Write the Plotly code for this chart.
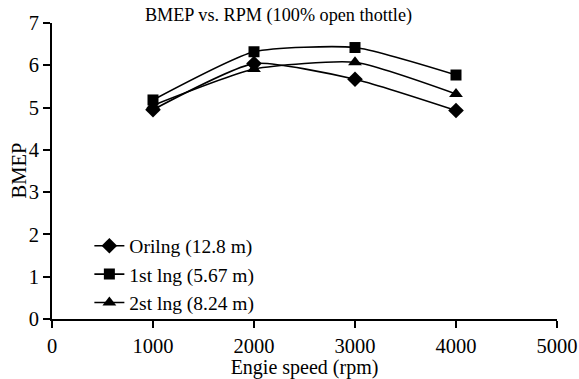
import plotly.graph_objects as go

rpm = [1000, 2000, 3000, 4000]
orig = [4.95, 6.04, 5.67, 4.93]
first = [5.18, 6.32, 6.42, 5.77]
second = [5.05, 5.91, 6.07, 5.32]

names = ["Orilng (12.8 m)", "1st lng (5.67 m)", "2st lng (8.24 m)"]
series = [orig, first, second]
symbols = ["diamond", "square", "triangle-up"]
sizes = [12, 11, 12]

fig = go.Figure()
for n, s, sym, sz in zip(names, series, symbols, sizes):
    fig.add_trace(go.Scatter(
        x=rpm, y=s, name=n, mode="lines+markers",
        line=dict(color="black", width=1.6, shape="spline", smoothing=0.55),
        marker=dict(symbol=sym, size=sz, color="black"),
    ))

serif = "Liberation Serif, Times New Roman, serif"
font = dict(family=serif, size=20, color="black")
fig.update_layout(
    width=579, height=379,
    margin=dict(l=52, r=22, t=23, b=60),
    paper_bgcolor="white", plot_bgcolor="white",
    font=font,
    title=dict(text="BMEP vs. RPM (100% open thottle)", x=0.481, xanchor="center",
               y=0.961, yanchor="middle", font=dict(family=serif, size=18.2)),
    legend=dict(x=0.074, y=-0.012, xanchor="left", yanchor="bottom",
                bgcolor="rgba(0,0,0,0)", font=dict(family=serif, size=19.5),
                tracegroupgap=0),
    showlegend=True,
)
fig.add_annotation(text="BMEP", xref="paper", yref="paper", x=0, y=0.5,
                   xanchor="center", yanchor="middle", xshift=-33.5,
                   textangle=-90, showarrow=False,
                   font=dict(family=serif, size=20.5, color="black"))
fig.update_xaxes(range=[0, 5000], tickvals=[0, 1000, 2000, 3000, 4000, 5000],
                 showline=True, linecolor="black", linewidth=2, ticks="outside",
                 ticklen=7, tickwidth=2, tickcolor="black", showgrid=False,
                 zeroline=False, automargin=False, tickfont=dict(size=20.5),
                 title=dict(text="Engie speed (rpm)", standoff=4,
                            font=dict(family=serif, size=20)))
fig.update_yaxes(range=[0, 7], tickvals=list(range(8)),
                 showline=True, linecolor="black", linewidth=2, ticks="outside",
                 ticklen=7, tickwidth=2, tickcolor="black", showgrid=False,
                 zeroline=False, automargin=False, tickfont=dict(size=20.5))

fig.write_html("out.html", config={"displayModeBar": False},
               post_script="document.body.style.margin='0';document.body.style.padding='0';")
